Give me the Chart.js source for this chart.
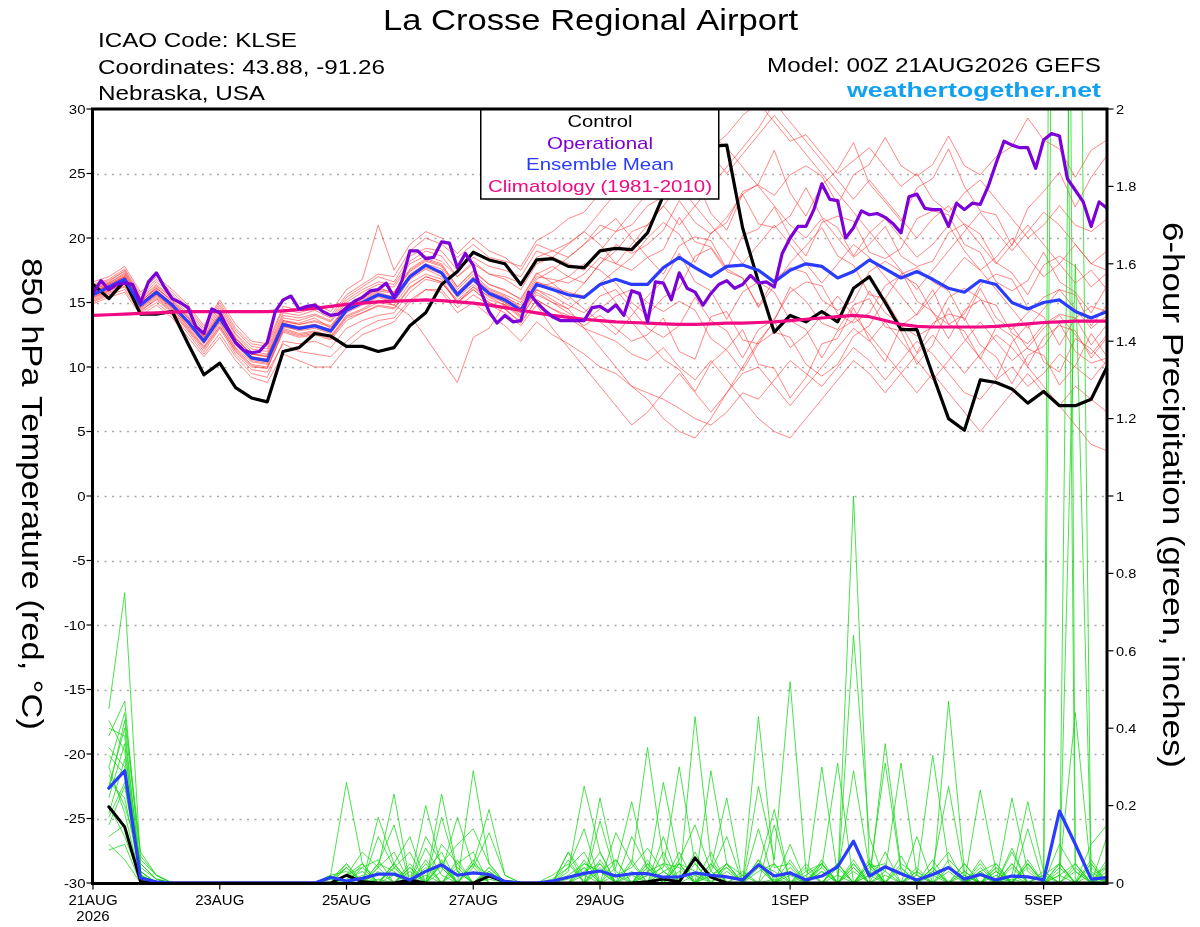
<!DOCTYPE html>
<html>
<head>
<meta charset="utf-8">
<script src="https://cdn.jsdelivr.net/npm/chart.js@4.4.1/dist/chart.umd.min.js"></script>
<style>
html,body{margin:0;padding:0;background:#fff;}
canvas{display:block;}
</style>
</head>
<body>
<canvas id="c" width="1200" height="927" style="width:1200px;height:927px"></canvas>
<script>
// ---------------- texts ----------------
const TITLE = 'La Crosse Regional Airport';
const INFO_LINES = ['ICAO Code: KLSE', 'Coordinates: 43.88, -91.26', 'Nebraska, USA'];
const MODEL_TEXT = 'Model: 00Z 21AUG2026 GEFS';
const SITE_TEXT = 'weathertogether.net';
const LEGEND_LABELS = ['Control', 'Operational', 'Ensemble Mean', 'Climatology (1981-2010)'];
const LEFT_TITLE = '850 hPa Temperature (red, \u00B0C)';
const RIGHT_TITLE = '6-hour Precipitation (green, inches)';

// ---------------- axes ----------------
const X_TICKS = [0, 48, 96, 144, 192, 264, 312, 360];           // forecast hour
const X_LABELS = [['21AUG', '2026'], ['23AUG'], ['25AUG'], ['27AUG'], ['29AUG'], ['1SEP'], ['3SEP'], ['5SEP']];
const TEMP_TICKS = [-30, -25, -20, -15, -10, -5, 0, 5, 10, 15, 20, 25, 30];
const PRECIP_TICKS = [0, 0.2, 0.4, 0.6, 0.8, 1, 1.2, 1.4, 1.6, 1.8, 2];
const PRECIP_TICK_LABELS = ['0', '0.2', '0.4', '0.6', '0.8', '1', '1.2', '1.4', '1.6', '1.8', '2'];

const HOURS_6H = Array.from({length: 65}, (_, i) => i * 6);       // 0..384
const HOURS_3H = Array.from({length: 129}, (_, i) => i * 3);      // 0..384
const PRECIP_HOURS = Array.from({length: 64}, (_, i) => (i + 1) * 6); // 6..384

// ---------------- 850 hPa temperature (C) ----------------
const CONTROL_T = [16.4,15.3,16.7,14.1,14.1,14.3,11.8,9.4,10.3,8.4,7.6,7.3,11.2,11.5,12.6,12.4,11.6,11.6,11.2,11.5,13.2,14.2,16.4,17.4,18.9,18.3,18.0,16.4,18.3,18.4,17.8,17.7,19.0,19.2,19.1,20.4,23.3,25.5,26.8,27.1,27.2,20.8,16.6,12.7,14.0,13.5,14.3,13.5,16.1,17.0,15.0,12.9,12.9,9.4,6.0,5.1,9.0,8.8,8.3,7.2,8.1,7.0,7.0,7.5,10.0];
const MEAN_T = [15.6,16.2,16.8,14.8,15.8,14.8,13.5,12.0,13.8,11.9,10.7,10.5,13.3,13.0,13.2,12.8,14.4,15.0,15.6,15.3,17.0,17.9,17.3,15.6,16.8,15.7,15.2,14.4,16.4,16.0,15.6,15.4,16.4,16.8,16.4,16.4,17.7,18.5,17.7,17.0,17.8,17.9,17.5,16.6,17.5,18.0,17.8,16.9,17.4,18.3,17.6,16.9,17.4,16.8,16.1,15.8,16.7,16.4,15.0,14.5,15.0,15.2,14.3,13.8,14.3];
const CLIMO_T = [14.0,14.05,14.1,14.15,14.2,14.25,14.3,14.3,14.3,14.3,14.3,14.3,14.35,14.45,14.55,14.7,14.85,14.95,15.05,15.1,15.15,15.2,15.15,15.05,14.95,14.8,14.6,14.4,14.2,14.0,13.85,13.7,13.6,13.5,13.45,13.4,13.35,13.3,13.3,13.35,13.4,13.4,13.45,13.5,13.6,13.7,13.8,13.9,14.0,13.9,13.6,13.3,13.15,13.1,13.1,13.1,13.1,13.15,13.25,13.35,13.45,13.5,13.55,13.55,13.55];
const OPER_T = [
15.7,16.7,16.0,16.4,16.5,16.4,15.0,16.6,17.3,16.2,
15.3,15.0,14.6,13.1,12.6,14.5,14.2,13.0,11.9,11.3,
11.1,11.2,11.9,14.3,15.2,15.5,14.5,14.7,14.8,14.3,
14.0,14.1,14.6,15.1,15.4,15.9,16.0,16.5,15.4,16.7,
19.0,19.0,18.4,18.5,19.7,19.6,17.7,18.8,17.9,15.8,
14.3,13.4,14.0,13.5,13.6,15.8,15.0,14.4,13.9,13.6,
13.6,13.6,13.6,14.6,14.7,14.3,14.8,14.0,15.9,15.7,
13.5,16.6,16.5,15.2,17.3,16.1,15.8,14.8,15.7,16.4,
16.7,16.1,16.4,17.1,16.5,16.6,16.2,18.8,20.0,20.9,
20.9,22.2,24.2,23.0,22.9,20.0,20.8,22.1,21.8,21.9,
21.6,21.1,20.4,23.2,23.4,22.3,22.2,22.2,20.9,22.7,
22.2,22.7,22.6,24.0,25.8,27.5,27.2,27.0,27.0,25.4,
27.6,28.1,27.9,24.6,23.7,22.8,20.9,22.8,22.3];

// ensemble members (6-hourly, 0..384 h)
const T_M01 = [16.0,16.5,17.2,15.2,16.3,15.3, 14.0,12.4,14.4,12.5,11.2,11.0, 13.8,13.6,14.0,13.5,15.0,15.8,16.4,16.2,18.0,18.6, 18.2,17.0,18.0,17.2,17.0,16.5,18.5,19.0,19.6,20.5,22.0,23.5,24.0,25.0, 26.0,27.5,28.5,27.0,28.0,29.5,30.5,29.0,27.5,28.0,26.5,25.0,26.0,27.0, 25.5,24.0,25.0,23.0,22.0,23.5,24.5,23.0,21.5,20.0,21.0,22.5,21.0,20.5,21.5];
const T_M02 = [15.2,15.8,16.2,14.4,15.2,14.2, 12.8,11.2,13.0,11.0,9.8,9.6, 11.8,11.2,11.0,10.8,12.0,13.0,13.6,13.8,15.2,16.0, 15.8,14.2,15.0,14.0,13.2,12.0,13.5,12.5,11.8,11.0,10.0,9.5,8.5,8.0, 7.5,6.8,6.0,5.5,6.5,8.0,7.5,9.0,10.5,9.5,8.5,10.0,11.5,10.5, 9.0,10.5,12.0,11.0,9.5,8.0,7.5,9.0,10.0,8.5,9.5,11.0,10.0,9.0,10.5];
const T_M03 = [15.8,16.4,17.0,15.0,16.2,15.0, 13.8,12.3,14.2,12.2,11.0,10.8, 13.6,13.4,13.8,13.0,14.8,15.4,16.0,15.8,17.6,18.4, 18.0,16.2,17.5,16.4,16.0,15.2,17.2,17.8,17.0,16.5,18.0,19.5,18.8,19.5, 20.6,22.9,21.2,20.3,21.6,23.4,21.1,20.8,21.7,23.9,21.6,20.8,18.6,20.4, 21.5,20.0,18.5,19.5,21.0,19.0,17.5,18.5,20.0,18.5,17.0,18.0,19.5,18.0,17.5];
const T_M04 = [15.4,16.0,16.6,14.6,15.5,14.5, 13.2,11.8,13.5,11.5,10.4,10.2, 13.0,12.6,12.8,12.4,14.0,14.5,15.2,14.8,16.5,17.2, 16.8,15.0,16.0,15.0,14.5,13.5,15.2,14.5,14.0,13.2,14.0,13.0,12.0,12.5, 13.8,11.2,10.6,13.9,14.3,12.1,11.8,13.6,16.2,15.1,13.4,12.9,14.8,15.3, 13.1,12.8,10.2,11.7,14.6,12.2,10.7,9.1,11.9,13.3,10.4,9.6,12.2,11.4,10.1];
const T_M05 = [16.2,16.6,17.5,15.4,16.6,15.6, 14.4,12.8,14.8,12.8,11.6,11.4, 14.2,14.0,14.4,13.8,15.4,16.2,17.0,16.6,18.6,19.2, 19.0,17.5,18.5,17.8,17.5,17.0,19.0,18.5,18.0,17.5,19.0,20.5,21.0,22.5, 23.2,26.1,24.7,21.9,20.6,23.4,24.2,26.8,23.5,21.7,24.1,25.3,27.4,24.2, 22.8,21.3,23.9,24.6,26.9,24.0,22.1,21.8,19.4,22.3,23.6,25.1,22.4,24.7,26.4];
const T_M06 = [15.0,15.6,16.0,14.2,15.0,14.0, 12.6,11.0,12.6,10.8,9.5,9.2, 12.0,11.8,12.0,11.5,13.0,13.6,14.0,14.2,15.8,16.8, 16.5,15.2,16.2,15.5,15.0,14.0,16.0,15.2,14.5,15.5,16.5,15.0,13.5,12.0, 10.6,9.8,8.1,10.3,11.4,12.9,10.2,9.9,7.6,9.2,11.8,12.2,14.6,12.1, 10.4,13.2,14.1,16.0,13.3,12.8,10.6,13.1,13.2,11.4,10.9,8.6,10.1,12.6,10.8];
const T_M07 = [16.4,16.8,17.6,15.6,16.8,15.8, 14.6,13.0,15.0,13.0,11.8,11.6, 14.5,14.2,14.6,14.0,15.6,16.4,17.2,17.0,19.0,20.0, 19.5,18.5,19.5,18.5,18.2,17.8,19.8,20.5,21.5,22.0,23.5,24.5,25.0,25.5, 26.5,27.0,27.5,28.0,27.0,25.5,24.0,22.5,21.0,20.0,21.5,20.0,18.5,19.5, 20.9,18.6,17.8,18.2,20.4,21.1,20.3,18.1,17.3,15.6,17.9,18.6,17.8,16.2,17.3];
const T_M08 = [15.6,16.0,16.8,14.8,15.6,14.6, 13.4,11.9,13.6,11.8,10.6,10.4, 13.2,12.8,13.0,12.6,14.2,14.8,15.4,15.0,16.8,17.6, 17.0,15.4,16.4,15.4,14.8,14.2,16.2,16.5,17.0,18.0,17.5,16.5,15.0,14.0, 15.4,16.1,18.6,19.2,17.4,16.9,14.6,16.3,18.1,19.4,20.8,18.6,17.9,15.6, 15.3,17.2,17.7,16.6,15.9,13.6,16.1,13.8,12.9,14.2,15.4,16.0,15.6,13.2,14.8];
const T_M09 = [15.9,16.3,17.0,14.9,16.0,14.9, 13.6,12.1,13.9,12.0,10.8,10.6, 13.4,13.1,13.3,12.9,14.5,15.2,15.8,15.4,17.2,18.0, 17.6,15.8,17.0,16.0,15.5,14.6,16.6,16.0,15.2,16.5,18.0,19.0,20.5,21.0, 22.5,21.0,22.5,24.0,25.5,27.0,28.5,30.5,29.0,27.5,26.0,24.5,23.0,24.5, 23.0,21.5,20.0,21.5,22.5,21.0,19.5,18.0,19.5,21.0,19.5,18.0,16.5,17.5,16.0];
const T_M10 = [15.3,15.9,16.4,14.5,15.4,14.4, 13.0,11.5,13.2,11.2,10.0,9.9, 12.8,12.4,12.6,12.2,13.8,14.2,14.8,14.6,16.2,17.0, 16.6,15.0,16.2,15.2,14.8,13.8,15.8,15.0,14.5,13.0,11.5,10.0,8.5,7.5, 6.0,5.0,4.5,6.0,8.0,10.0,12.0,13.5,11.5,12.5,14.0,15.5,14.0,12.5, 11.0,9.5,8.0,9.5,8.0,6.5,5.0,6.5,8.0,9.5,8.0,7.0,8.5,7.5,6.5];
const T_M11 = [16.1,16.5,17.3,15.1,16.1,15.1, 13.9,12.2,14.1,12.3,11.0,10.9, 13.5,13.3,13.5,13.1,14.6,15.3,15.9,15.7,17.4,18.2, 17.8,16.0,17.2,16.1,15.6,15.0,17.0,16.8,16.5,17.2,18.5,18.0,17.5,18.5, 19.1,21.6,19.7,19.3,17.6,20.2,20.7,22.4,20.1,18.6,21.2,21.7,21.3,18.9, 18.4,19.2,21.5,22.1,21.8,19.5,18.9,16.6,15.9,16.7,18.9,16.6,15.8,14.2,16.3];
const T_M12 = [15.5,16.1,16.7,14.7,15.7,14.7, 13.3,11.9,13.7,11.7,10.5,10.3, 13.1,12.9,13.1,12.7,14.3,14.9,15.5,15.1,16.9,17.7, 17.2,15.5,16.6,15.6,15.0,14.2,16.0,15.5,14.8,14.2,15.5,16.0,14.5,13.0, 12.3,13.2,15.4,13.6,12.8,10.7,12.9,13.7,15.8,16.6,16.3,14.1,13.4,14.2, 16.3,17.1,16.4,14.2,13.3,14.1,16.4,17.2,16.8,14.6,13.9,11.7,13.8,14.7,14.3];
const T_M13 = [16.6,17.0,17.8,15.8,17.0,16.0, 14.8,13.2,15.2,13.3,12.0,11.8, 14.7,14.4,14.9,14.3,16.0,16.8,21.0,17.5,19.5,20.5, 20.0,18.8,20.0,19.0,18.5,17.5,19.5,19.0,18.5,19.5,21.0,20.5,22.0,23.5, 25.0,24.0,22.5,21.0,19.5,18.0,19.5,21.0,19.5,18.0,16.5,18.0,19.5,18.5, 17.0,15.5,14.0,15.5,17.0,18.5,17.5,16.0,14.5,13.0,14.5,16.0,14.5,13.0,14.0];
const T_M14 = [14.9,15.4,15.8,14.0,14.8,13.8, 12.3,10.8,12.3,10.5,9.2,8.8, 11.0,10.5,10.0,10.0,11.5,12.5,13.0,13.5,15.0,16.0, 16.0,14.6,15.6,14.8,14.2,13.2,14.8,13.0,11.5,10.0,8.5,7.0,5.5,6.5, 8.0,9.5,8.0,6.5,8.0,9.5,10.0,8.5,7.0,8.5,10.0,11.5,13.0,12.0, 13.5,12.0,10.5,9.0,10.5,12.0,13.5,12.0,10.5,11.5,13.0,14.0,12.5,11.0,12.5];
const T_M15 = [15.7,16.2,16.9,14.9,15.9,14.9, 13.5,12.0,13.8,11.9,10.7,10.5, 13.3,13.0,13.2,12.8,14.4,15.0,15.6,15.3,17.0,17.8, 17.4,15.6,16.8,15.8,15.4,14.8,16.8,17.5,18.5,19.5,20.5,21.5,20.0,18.5, 17.2,19.4,20.1,19.8,17.6,16.9,14.7,16.8,17.7,17.3,15.2,14.4,15.1,17.4, 18.2,17.4,15.1,14.3,12.2,14.4,15.2,14.8,12.6,11.8,13.3,14.1,13.8,11.7,13.3];
const T_M16 = [15.8,16.3,17.0,15.0,15.9,14.9, 13.6,12.1,13.8,12.0,10.8,10.6, 13.4,13.1,13.3,12.9,14.5,15.1,15.7,15.4,17.1,17.9, 17.4,15.8,16.9,15.9,15.3,14.6,16.6,16.2,15.8,15.5,16.5,17.5,18.5,20.0, 21.2,20.3,18.1,20.4,21.2,23.6,24.1,23.3,24.9,25.6,24.8,22.6,24.9,25.7, 27.8,25.6,24.8,25.7,27.9,25.6,24.9,26.3,27.1,29.3,27.6,26.9,24.7,26.8,27.6];
const T_M17 = [15.1,15.7,16.3,14.3,15.3,14.3, 12.9,11.4,13.1,11.3,10.1,9.9, 12.7,12.3,12.5,12.1,13.6,14.2,14.7,14.5,16.1,17.0, 16.6,15.0,16.0,15.0,14.5,13.4,15.2,14.5,13.8,13.0,12.5,12.0,11.0,10.5, 11.5,10.0,9.0,10.5,9.0,7.5,6.0,5.0,4.5,6.0,7.5,9.0,10.5,9.5, 8.0,9.5,11.0,12.5,11.0,9.5,11.0,12.5,11.5,10.0,8.5,7.0,5.5,4.0,3.5];
const T_M18 = [16.3,16.7,17.4,15.3,16.4,15.4, 14.2,12.6,14.6,12.6,11.4,11.2, 14.0,13.8,14.1,13.6,15.2,16.0,16.6,16.4,18.2,19.0, 18.6,17.0,18.2,17.2,16.8,16.0,18.0,18.5,19.5,20.5,19.5,18.0,19.5,21.0, 22.5,24.0,25.5,26.5,25.0,26.5,28.0,29.5,28.0,26.5,25.0,23.5,22.0,20.5, 19.0,17.5,16.0,17.5,19.0,20.5,22.0,20.5,19.0,20.5,22.0,21.0,19.5,18.0,19.0];
const T_M19 = [15.4,15.9,16.5,14.6,15.6,14.6, 13.1,11.6,13.4,11.4,10.2,10.0, 12.9,12.5,12.7,12.3,13.9,14.4,15.0,14.8,14.0,12.3, 10.5,8.8,12.3,13.0,14.9,13.9,15.6,15.0,14.2,13.5,14.5,15.5,16.0,15.0, 14.3,15.1,14.4,12.2,11.3,9.7,11.8,12.7,12.3,10.2,9.3,10.2,12.4,13.2, 15.3,13.2,12.4,13.1,15.4,16.1,15.3,13.2,12.4,10.1,12.3,13.2,12.8,10.7,12.3];
const T_M20 = [16.0,16.4,17.1,15.1,16.1,15.2, 13.8,12.3,14.0,12.2,11.0,10.8, 13.6,13.3,13.6,13.2,14.7,15.4,16.1,15.8,17.5,18.3, 17.9,16.2,17.4,16.4,15.9,15.3,17.3,16.5,15.5,14.5,13.5,12.5,14.0,15.5, 16.7,18.8,16.6,15.9,13.7,15.8,16.6,15.8,13.6,12.9,10.7,12.8,13.6,15.9, 14.2,13.3,11.1,13.4,14.1,13.8,11.7,10.8,8.7,10.9,11.6,13.4,11.2,10.3,10.7];
const T_MEMBERS = [T_M01,T_M02,T_M03,T_M04,T_M05,T_M06,T_M07,T_M08,T_M09,T_M10,T_M11,T_M12,T_M13,T_M14,T_M15,T_M16,T_M17,T_M18,T_M19,T_M20];

// ---------------- 6-hour precipitation (inches), 6..384 h ----------------
const PRECIP_MEAN = [0.245,0.29,0.013,0.003, 0,0,0,0,0,0,0,0,0,0, 0.015,0.005,0.012,0.023,0.023,0.008,0.03,0.047,0.02,0.026, 0.022,0.004,0,0,0.005,0.015,0.025,0.031,0.018,0.024, 0.024,0.015,0.016,0.026,0.02,0.016,0.008,0.047,0.018,0.026, 0.008,0.018,0.042,0.108,0.018,0.042,0.024,0.008,0.022,0.04, 0.01,0.022,0.008,0.018,0.016,0.008,0.186,0.10,0.01,0.014];
const PRECIP_CONTROL = [0.197,0.145,0.004,0, 0,0,0,0,0,0,0,0,0,0, 0,0.02,0.003,0,0,0.008,0,0,0,0, 0.018,0.003,0,0,0,0,0,0,0,0, 0.003,0.01,0.003,0.065,0.015,0,0,0,0,0, 0,0,0,0,0,0,0,0,0,0, 0,0,0,0,0,0,0,0,0,0];
const P_M01 = [0.45,0.75,0.05,0.01, 0,0,0,0,0,0,0,0,0,0, 0.02,0.26,0.05,0,0.04,0,0.03,0.08,0,0.05, 0.02,0,0,0,0,0.03,0.25,0.08,0,0.02, 0,0.05,0,0.43,0.06,0,0,0.03,0.05,0, 0.01,0.04,0,1.0,0.05,0,0,0,0.04,0, 0,0.03,0.05,0,0,0,0.02,0.05,0,0.01];
const P_M02 = [0.38,0.47,0.03,0, 0,0,0,0,0,0,0,0,0,0, 0.01,0.04,0,0.17,0.05,0,0,0.23,0.03,0, 0.01,0,0,0,0,0.06,0,0.22,0.03,0, 0.02,0.04,0.30,0.05,0,0,0.02,0.04,0.19,0, 0.02,0.05,0,0.64,0.12,0,0,0.03,0,0.47, 0.03,0,0.02,0,0.05,0,0,0.03,0,0.04];
const P_M03 = [0.30,0.44,0.08,0.02, 0,0,0,0,0,0,0,0,0,0, 0,0.02,0.08,0.04,0.23,0,0,0.05,0,0.29, 0.05,0,0,0,0,0.01,0.04,0,0.13,0.05, 0.35,0.06,0,0,0.04,0.22,0,0.05,0.03,0, 0,0.03,0,0.05,0,0.36,0.04,0,0,0.03, 0,0.05,0,0.22,0.03,0,7.0,0.05,0,0.03];
const P_M04 = [0.25,0.40,0.02,0, 0,0,0,0,0,0,0,0,0,0, 0.01,0.05,0,0.12,0.04,0.08,0,0.03,0.17,0.04, 0.13,0.02,0,0,0,0.04,0.14,0,0.04,0.21, 0.03,0.05,0.04,0,0.29,0.05,0,0.43,0.04,0.05, 0,0.03,0,0.04,0,0.03,0.31,0.02,0,0.04, 0,0.03,0,0.04,0,0,4.5,0.0,0.02,0.04];
const P_M05 = [0.22,0.36,0,0, 0,0,0,0,0,0,0,0,0,0, 0.02,0.03,0,0.05,0.15,0,0.20,0.04,0,0.05, 0.19,0.02,0,0,0,0.02,0.05,0.03,0.06,0, 0.02,0.26,0.05,0,0.02,0.04,0,0.25,0.06,0.52, 0.03,0.05,0,0.04,0,0.02,0,0.02,0.33,0.05, 0,0.24,0.03,0,0.05,0,0.03,0.44,0.02,0];
const P_M06 = [0.35,0.30,0.04,0.01, 0,0,0,0,0,0,0,0,0,0, 0,0.02,0.04,0,0.05,0.12,0,0.10,0.05,0, 0.03,0,0,0,0.02,0.05,0,0.16,0.02,0.04, 0.09,0.03,0.05,0,0.02,0.05,0,0.04,0,0.02, 0,0.30,0.02,0.29,0.04,0.05,0,0,0.04,0.25, 0.02,0,0.04,0,0.05,0,0,3.5,0.0,0.02];
const P_M07 = [0.18,0.32,0.01,0, 0,0,0,0,0,0,0,0,0,0, 0,0.01,0.03,0,0.04,0,0.12,0.05,0.10,0.14, 0.05,0,0,0,0,0,0.03,0.05,0,0.12, 0.04,0,0.05,0.03,0,0.03,0,0.05,0,0.04, 0,0.04,0.31,0,0.05,0.03,0,0,0.03,0, 0.05,0,0,0.02,0.21,0.03,0,1.6,0.03,0];
const P_M08 = [0.15,0.25,0.02,0, 0,0,0,0,0,0,0,0,0,0, 0,0.02,0.05,0,0,0.04,0,0.17,0.03,0, 0,0,0,0,0,0,0.05,0.03,0,0, 0.05,0,0,0,0.03,0.12,0,0,0,0, 0,0,0.05,0,0.02,0.31,0.03,0,0,0, 0,0.02,0,0,0.04,0,0.10,0.03,0,0.12];
const P_M09 = [0.28,0.20,0.06,0.02, 0,0,0,0,0,0,0,0,0,0, 0,0,0,0.05,0.03,0,0.09,0.02,0,0, 0.04,0,0,0,0,0.08,0.02,0,0,0.05, 0,0.12,0,0,0.05,0,0,0.14,0,0, 0.04,0,0,0.05,0,0,0.05,0.02,0,0, 0.03,0,0,0.09,0,0,0.04,0,0.10,0.15];
const P_M10 = [0.40,0.38,0.03,0, 0,0,0,0,0,0,0,0,0,0, 0,0,0.04,0.06,0,0,0.03,0.04,0,0.06, 0,0,0,0,0,0,0.02,0.08,0,0, 0.04,0,0.06,0.15,0.03,0,0,0,0.05,0, 0,0.05,0,0,0.02,0,0,0.12,0,0, 0.02,0,0.03,0,0.14,0,0,0.05,0,0];
const P_M11 = [0.12,0.15,0,0, 0,0,0,0,0,0,0,0,0,0, 0.01,0,0,0.04,0.08,0,0,0,0.04,0, 0,0,0,0,0.01,0.04,0.08,0,0,0, 0.05,0,0.08,0,0,0.05,0.02,0,0,0.10, 0,0,0,0.06,0,0.08,0,0,0.06,0, 0,0.02,0,0.08,0,0,0.02,0,0.04,0];
const P_M12 = [0.20,0.12,0.01,0, 0,0,0,0,0,0,0,0,0,0, 0,0.05,0,0,0.05,0,0,0.05,0,0, 0,0,0,0,0,0.08,0,0.06,0,0, 0.06,0,0,0.08,0,0,0,0,0.15,0, 0,0.06,0,0,0.03,0,0.07,0,0,0.06, 0.02,0,0.03,0,0.06,0,0,0,0.06,0];
const P_M13 = [0.33,0.28,0.05,0.01, 0,0,0,0,0,0,0,0,0,0, 0,0,0,0.03,0,0,0.06,0,0.05,0.08, 0,0,0,0,0,0,0.06,0,0,0.03, 0,0.08,0,0,0.08,0,0,0.06,0,0, 0,0,0.05,0,0.06,0,0,0,0.03,0.08, 0,0.06,0,0.05,0,0.02,0.05,0,0,0.06];
const P_M14 = [0.26,0.22,0.02,0, 0,0,0,0,0,0,0,0,0,0, 0,0.04,0,0,0.02,0,0.05,0,0,0.05, 0,0,0,0,0,0,0,0.03,0,0, 0.03,0,0,0,0.05,0,0,0.06,0,0, 0,0.05,0,0,0.05,0,0,0,0.02,0, 0.03,0,0,0.05,0,0.03,0,0,0.05,0];
const P_M15 = [0.10,0.06,0,0, 0,0,0,0,0,0,0,0,0,0, 0,0,0.02,0,0,0.04,0,0.05,0,0, 0,0,0,0,0,0,0.04,0,0,0.06, 0,0,0.05,0,0,0,0,0.05,0,0, 0.05,0,0,0,0.04,0,0,0,0.04,0, 0.05,0,0,0.02,0,0,0.05,0,0,0];
const P_M16 = [0.42,0.34,0.03,0, 0,0,0,0,0,0,0,0,0,0, 0,0.04,0,0,0.05,0,0,0.06,0,0, 0.03,0,0,0,0,0,0,0.05,0,0, 0,0.03,0,0,0,0.05,0,0,0,0.03, 0,0,0.05,0,0,0,0.04,0,0,0, 0,0,0.05,0,0,0,0.05,0,0,0.05];
const P_M17 = [0.24,0.42,0.07,0.02, 0,0,0,0,0,0,0,0,0,0, 0,0,0.05,0,0,0.05,0,0,0.06,0, 0.04,0,0,0,0,0,0,0,0.06,0, 0,0,0,0.05,0,0,0,0,0,0.06, 0,0,0.04,0,0,0,0,0.03,0,0, 0,0.04,0,0,0,0,0,0,0.05,0];
const P_M18 = [0.30,0.18,0.01,0, 0,0,0,0,0,0,0,0,0,0, 0,0,0,0.04,0,0,0.04,0,0,0.04, 0,0,0,0,0,0,0,0.04,0,0, 0,0,0.03,0,0,0,0.03,0,0,0, 0.03,0,0,0,0.05,0,0,0.04,0,0, 0,0,0.04,0,0,0,0,0.04,0,0];
const P_M19 = [0.17,0.26,0.02,0, 0,0,0,0,0,0,0,0,0,0, 0,0,0.01,0,0,0.03,0,0,0.03,0, 0,0,0,0,0,0,0,0,0.02,0, 0,0.03,0,0,0,0.04,0,0,0,0.03, 0,0,0,0.03,0,0,0,0,0.04,0, 0,0.03,0,0,0,0.02,0,0,0,0.02];
const P_M20 = [0.085,0.10,0,0, 0,0,0,0,0,0,0,0,0,0, 0,0,0,0.01,0,0,0.02,0,0,0, 0,0,0,0,0,0,0,0,0,0, 0,0,0,0.02,0,0,0,0,0.01,0, 0,0,0.02,0,0,0,0,0,0,0, 0,0,0,0.01,0,0,0,0,0,0];
const P_MEMBERS = [P_M01,P_M02,P_M03,P_M04,P_M05,P_M06,P_M07,P_M08,P_M09,P_M10,P_M11,P_M12,P_M13,P_M14,P_M15,P_M16,P_M17,P_M18,P_M19,P_M20];

// ---------------- styles ----------------
const FONT = '"Liberation Sans", Arial, Helvetica, sans-serif';
const C_CONTROL = '#000000';
const C_OPER = '#7c00d8';
const C_MEAN = '#2a3cff';
const C_CLIMO = '#f00a84';
const C_MEMBER_T = 'rgba(255,40,40,0.62)';
const C_MEMBER_P = 'rgba(20,215,20,0.85)';
const C_SITE = '#12a0f2';
const LEGEND_COLORS = [C_CONTROL, C_OPER, C_MEAN, C_CLIMO];

const pts = (hours, vals) => hours.map((h, i) => ({x: h, y: vals[i]}));
function lineSet(hours, vals, axis, color, width, order) {
  return {
    data: pts(hours, vals), yAxisID: axis, borderColor: color, borderWidth: width,
    pointRadius: 0, tension: 0, fill: false, order: order,
    borderJoinStyle: width > 2 ? 'round' : 'miter', borderCapStyle: width > 2 ? 'round' : 'butt'
  };
}

const datasets = [];
datasets.push(lineSet(HOURS_3H, OPER_T, 'y', C_OPER, 3.2, 1));
datasets.push(lineSet(HOURS_6H, CLIMO_T, 'y', C_CLIMO, 3.2, 2));
datasets.push(lineSet(HOURS_6H, MEAN_T, 'y', C_MEAN, 3.2, 3));
datasets.push(lineSet(HOURS_6H, CONTROL_T, 'y', C_CONTROL, 3.2, 4));
datasets.push(lineSet(PRECIP_HOURS, PRECIP_MEAN, 'y2', C_MEAN, 3.2, 5));
datasets.push(lineSet(PRECIP_HOURS, PRECIP_CONTROL, 'y2', C_CONTROL, 3.0, 6));
P_MEMBERS.forEach(m => datasets.push(lineSet(PRECIP_HOURS, m, 'y2', C_MEMBER_P, 0.9, 9)));
T_MEMBERS.forEach(m => datasets.push(lineSet(HOURS_6H, m, 'y', C_MEMBER_T, 0.9, 10)));

// ---------------- text helpers ----------------
function textW(ctx, text, size, weight) {
  ctx.font = `${weight || 'normal'} ${size}px ${FONT}`;
  return ctx.measureText(text).width;
}
// draw text horizontally stretched by factor, aligned left/center/right at x
function drawText(ctx, text, x, y, size, stretch, align, color, weight) {
  ctx.save();
  ctx.font = `${weight || 'normal'} ${size}px ${FONT}`;
  ctx.fillStyle = color || '#000';
  ctx.textBaseline = 'alphabetic';
  ctx.textAlign = 'left';
  const w = ctx.measureText(text).width * stretch;
  const x0 = align === 'right' ? x - w : (align === 'center' ? x - w / 2 : x);
  ctx.translate(x0, y);
  ctx.scale(stretch, 1);
  ctx.fillText(text, 0, 0);
  ctx.restore();
}
function drawFitted(ctx, text, x, y, size, width, align, color, weight) {
  const s = width / textW(ctx, text, size, weight);
  drawText(ctx, text, x, y, size, s, align, color, weight);
}
function drawVertical(ctx, text, bx, cy, size, length) {
  ctx.save();
  ctx.translate(bx, cy);
  ctx.rotate(Math.PI / 2);
  drawFitted(ctx, text, 0, 0, size, length, 'center', '#000');
  ctx.restore();
}

const decor = {
  id: 'decor',
  beforeDatasetsDraw(chart) {
    const {ctx, chartArea: a, scales} = chart;
    ctx.save();
    ctx.strokeStyle = '#a9a9a9';
    ctx.lineWidth = 1.3;
    ctx.setLineDash([2, 5.5]);
    TEMP_TICKS.forEach(v => {
      if (v <= -30 || v >= 30) return;
      const y = Math.round(scales.y.getPixelForValue(v)) + 0.5;
      ctx.beginPath(); ctx.moveTo(a.left + 4, y); ctx.lineTo(a.right, y); ctx.stroke();
    });
    ctx.restore();
  },
  afterDraw(chart) {
    const {ctx, chartArea: a, scales} = chart;
    // legend box
    ctx.save();
    ctx.fillStyle = '#fff';
    ctx.fillRect(480, 109, 239, 90);
    ctx.strokeStyle = '#000'; ctx.lineWidth = 1.5;
    ctx.strokeRect(480.75, 109, 238, 90);
    ctx.restore();
    const LEG_BASE = [127, 148.5, 170, 191.5];
    const LEG_W = [65, 106, 148, 224];
    LEGEND_LABELS.forEach((t, i) => drawFitted(ctx, t, 600, LEG_BASE[i], 17, LEG_W[i], 'center', LEGEND_COLORS[i]));

    // tick marks
    ctx.save();
    ctx.strokeStyle = '#000'; ctx.lineWidth = 1.2;
    TEMP_TICKS.forEach(v => {
      const y = scales.y.getPixelForValue(v);
      ctx.beginPath(); ctx.moveTo(86.5, y); ctx.lineTo(a.left, y); ctx.stroke();
    });
    PRECIP_TICKS.forEach(v => {
      const y = scales.y2.getPixelForValue(v);
      ctx.beginPath(); ctx.moveTo(a.right, y); ctx.lineTo(a.right + 6.5, y); ctx.stroke();
    });
    X_TICKS.forEach(v => {
      const x = scales.x.getPixelForValue(v);
      ctx.beginPath(); ctx.moveTo(x, a.bottom); ctx.lineTo(x, a.bottom + 6.5); ctx.stroke();
    });
    // frame
    ctx.lineWidth = 3;
    ctx.strokeRect(a.left - 0.5, a.top, a.right - a.left + 0.5, a.bottom - a.top + 0.5);
    ctx.restore();

    // tick labels
    TEMP_TICKS.forEach(v => {
      const y = scales.y.getPixelForValue(v);
      drawText(ctx, String(v), 85.5, y + 4.7, 13, 1.15, 'right', '#000');
    });
    PRECIP_TICKS.forEach((v, i) => {
      const y = scales.y2.getPixelForValue(v);
      drawText(ctx, PRECIP_TICK_LABELS[i], 1116, y + 4.7, 13, 1.12, 'left', '#000');
    });
    X_TICKS.forEach((v, i) => {
      const x = scales.x.getPixelForValue(v);
      X_LABELS[i].forEach((t, k) => drawText(ctx, t, x, 904.5 + k * 16.5, 15, 1.0, 'center', '#000'));
    });

    // header
    drawFitted(ctx, TITLE, 590.5, 30, 30, 415, 'center', '#000');
    const INFO_BASE = [47, 73.5, 100];
    const INFO_W = [199, 287, 167];
    INFO_LINES.forEach((t, i) => drawFitted(ctx, t, 98, INFO_BASE[i], 20, INFO_W[i], 'left', '#000'));
    drawFitted(ctx, MODEL_TEXT, 1101, 72, 20, 334, 'right', '#000');
    drawFitted(ctx, SITE_TEXT, 1101, 97, 21, 254, 'right', C_SITE, 'bold');

    // axis titles (rotated clockwise, reading top to bottom)
    drawVertical(ctx, LEFT_TITLE, 22, 494, 30, 472);
    drawVertical(ctx, RIGHT_TITLE, 1163, 495, 30, 546);
  }
};

new Chart(document.getElementById('c'), {
  type: 'line',
  data: {datasets: datasets},
  options: {
    responsive: false,
    animation: false,
    devicePixelRatio: 1,
    events: [],
    layout: {padding: {left: 93, right: 93, top: 109, bottom: 44}},
    plugins: {legend: {display: false}, tooltip: {enabled: false}, title: {display: false}},
    scales: {
      x: {type: 'linear', min: 0, max: 384, display: false},
      y: {type: 'linear', min: -30, max: 30, display: false},
      y2: {type: 'linear', min: 0, max: 2, display: false}
    }
  },
  plugins: [decor]
});
</script>
</body>
</html>
